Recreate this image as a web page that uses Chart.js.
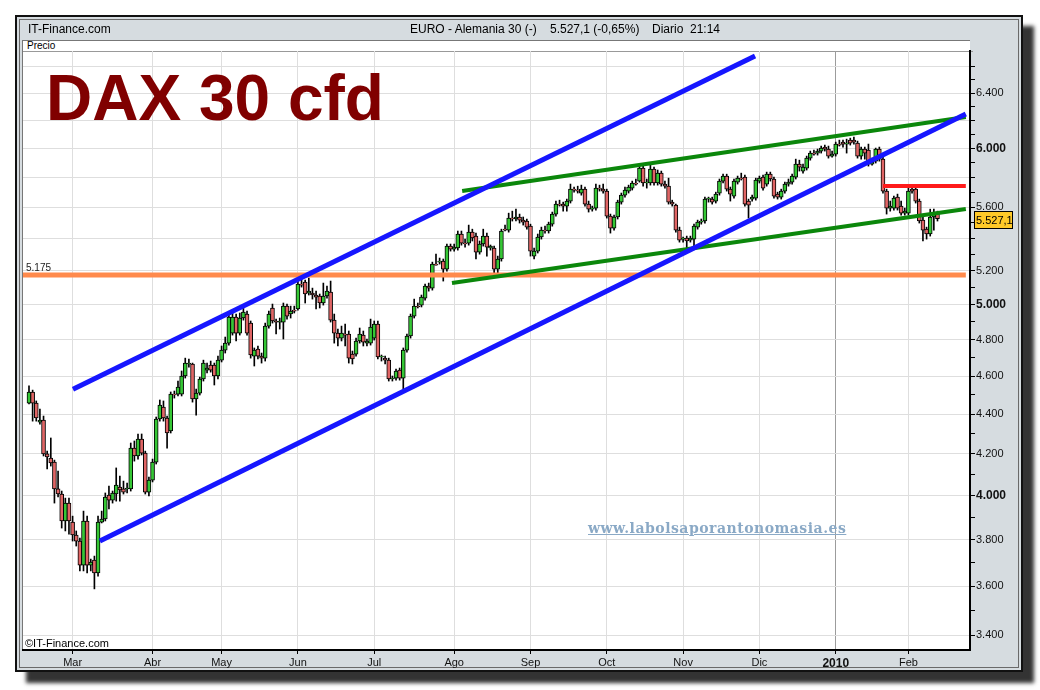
<!DOCTYPE html>
<html lang="es">
<head>
<meta charset="utf-8">
<title>DAX 30 cfd</title>
<script src="https://cdn.jsdelivr.net/npm/chart.js@4.4.1/dist/chart.umd.min.js"></script>
<style>
  html, body { margin: 0; padding: 0; background: #fff; }
  #lienzo { position: relative; width: 1040px; height: 690px; overflow: hidden;
            font-family: "Liberation Sans", Arial, sans-serif; color: #000; }
  #marco { position: absolute; left: 15px; top: 15px; width: 1004px; height: 653px;
           background: #d6dce0; border: 2px solid #111;
           box-shadow: inset 0 0 0 2px #d6dce0, inset 0 0 0 3px #6a6a6a, 11px 11px 4px rgba(0,0,0,0.8); }
  #zona { position: absolute; left: 22px; top: 40px; width: 948px; height: 610px; background: #fff;
          border-left: 1px solid #777; border-top: 1px solid #777; box-sizing: border-box; }
  #precio { position: absolute; left: 23px; top: 41px; width: 946px; height: 10px;
            border-bottom: 1px solid #999; font-size: 10px; line-height: 10px; padding-left: 4px; box-sizing: content-box; }
  canvas { position: absolute; left: 0; top: 0; }
  .texto { position: absolute; white-space: pre; }
  #fuente { left: 28px; top: 22px; font-size: 12px; }
  #simbolo { left: 410px; top: 22px; font-size: 12px; }
  #cotizacion { left: 550px; top: 22px; font-size: 12px; }
  #sesion { left: 652px; top: 22px; font-size: 12px; }
  #titulo { left: 46px; top: 66px; font-size: 64px; line-height: 64px; font-weight: bold; color: #800000; }
  #web { left: 588px; top: 520px; font-family: "DejaVu Serif", "Liberation Serif", serif; font-size: 14px;
         font-weight: bold; color: #8aa9c6; text-decoration: underline; letter-spacing: 0.5px; }
  #copy { left: 25px; top: 637px; font-size: 11px; }
</style>
</head>
<body>
<div id="lienzo">
  <div id="marco"></div>
  <div id="zona"></div>
  <div id="precio">Precio</div>
  <canvas id="grafico" width="1040" height="690"></canvas>
  <div class="texto" id="fuente">IT-Finance.com</div>
  <div class="texto" id="simbolo">EURO - Alemania 30 (-)</div>
  <div class="texto" id="cotizacion">5.527,1 (-0,65%)</div>
  <div class="texto" id="sesion">Diario  21:14</div>
  <div class="texto" id="titulo">DAX 30 cfd</div>
  <div class="texto" id="web">www.labolsaporantonomasia.es</div>
  <div class="texto" id="copy">©IT-Finance.com</div>
</div>
<script>
// Etiquetas de meses y sesión (índice de vela) en la que empieza cada mes
const meses = ['Mar', 'Abr', 'May', 'Jun', 'Jul', 'Ago', 'Sep', 'Oct', 'Nov', 'Dic', '2010', 'Feb'];
const inicioMes = [12, 34, 53, 74, 95, 117, 138, 159, 180, 201, 222, 242];

// Marcas del eje de precios (cada 100), rejilla cada 200 y niveles con etiqueta
const marcasPrecio = [3400, 3500, 3600, 3700, 3800, 3900, 4000, 4100, 4200, 4300, 4400, 4500, 4600, 4700,
  4800, 4900, 5000, 5100, 5200, 5300, 5400, 5500, 5600, 5700, 5800, 5900, 6000, 6100, 6200, 6300, 6400, 6500, 6600];
const nivelesEtiqueta = [3400, 3600, 3800, 4000, 4200, 4400, 4600, 4800, 5000, 5200, 5600, 6000, 6400];

// Velas diarias (feb 2009 - feb 2010)
const apertura = [
  4457, 4515, 4457, 4359, 4369, 4200, 4180, 4160, 4032, 4008,
  3884, 3966, 3879, 3821, 3794, 3689, 3884, 3689, 3711, 3655,
  3879, 3893, 4003, 3980, 4008, 4041, 4032, 4032, 4032, 4229,
  4190, 4274, 4204, 4017, 4074, 4160, 4375, 4436, 4380, 4314,
  4504, 4504, 4504, 4600, 4665, 4665, 4478, 4509, 4584, 4632,
  4659, 4659, 4600, 4686, 4741, 4780, 4836, 4927, 4836, 4922,
  4945, 4893, 4708, 4747, 4708, 4697, 4876, 4980, 4905, 4899,
  4899, 4991, 4945, 4968, 4974, 5121, 5133, 5068, 5068, 5056,
  5050, 5009, 5050, 5073, 4910, 4836, 4808, 4831, 4831, 4719,
  4719, 4792, 4825, 4780, 4780, 4808, 4888, 4703, 4697, 4686,
  4584, 4589, 4632, 4589, 4741, 4820, 4933, 4991, 4997, 5038,
  5109, 5097, 5242, 5254, 5260, 5211, 5353, 5334, 5341, 5429,
  5372, 5372, 5441, 5416, 5316, 5366, 5416, 5341, 5341, 5211,
  5273, 5460, 5454, 5531, 5525, 5538, 5518, 5512, 5479, 5291,
  5322, 5410, 5454, 5448, 5492, 5557, 5622, 5622, 5609, 5642,
  5721, 5715, 5695, 5721, 5622, 5589, 5596, 5728, 5721, 5708,
  5544, 5467, 5538, 5635, 5681, 5708, 5728, 5762, 5775, 5863,
  5762, 5762, 5856, 5762, 5829, 5755, 5741, 5635, 5615, 5454,
  5397, 5404, 5391, 5397, 5473, 5505, 5512, 5655, 5655, 5642,
  5695, 5775, 5809, 5721, 5675, 5768, 5795, 5802, 5642, 5655,
  5661, 5775, 5802, 5755, 5822, 5789, 5688, 5668, 5708, 5755,
  5768, 5802, 5891, 5843, 5863, 5932, 5967, 5967, 5981, 6009,
  5995, 5946, 5960, 6030, 6044, 6030, 6058, 6058, 6037, 5946,
  5995, 5988, 5891, 5911, 5995, 5925, 5708, 5596, 5596, 5668,
  5609, 5563, 5563, 5721, 5721, 5642, 5518, 5460, 5429, 5538,
  5563
];
const maximo = [
  4547, 4525, 4468, 4426, 4390, 4214, 4279, 4170, 4117, 4022,
  3989, 3989, 3906, 3839, 3807, 3929, 3906, 3715, 3728, 3906,
  3929, 4013, 4046, 4022, 4132, 4093, 4069, 4060, 4254, 4264,
  4299, 4299, 4214, 4088, 4175, 4385, 4473, 4468, 4390, 4515,
  4520, 4573, 4627, 4697, 4692, 4670, 4531, 4594, 4686, 4670,
  4681, 4670, 4708, 4764, 4814, 4951, 4951, 4945, 4951, 4980,
  4962, 4905, 4753, 4764, 4725, 4893, 4962, 5003, 4916, 4922,
  5009, 5003, 4991, 4991, 5139, 5151, 5145, 5157, 5097, 5079,
  5062, 5127, 5109, 5139, 4945, 4859, 4876, 4888, 4848, 4736,
  4808, 4865, 4848, 4803, 4916, 4905, 4905, 4714, 4708, 4697,
  4600, 4638, 4643, 4753, 4831, 4945, 5032, 5009, 5056, 5121,
  5127, 5254, 5303, 5279, 5273, 5366, 5366, 5366, 5448, 5448,
  5397, 5486, 5460, 5435, 5385, 5460, 5435, 5360, 5353, 5291,
  5460, 5486, 5563, 5576, 5589, 5557, 5538, 5525, 5492, 5341,
  5429, 5473, 5479, 5505, 5570, 5642, 5648, 5635, 5655, 5755,
  5735, 5741, 5748, 5735, 5642, 5609, 5755, 5748, 5755, 5721,
  5557, 5550, 5648, 5695, 5735, 5748, 5775, 5789, 5884, 5877,
  5789, 5891, 5870, 5850, 5843, 5775, 5795, 5648, 5622, 5473,
  5410, 5416, 5416, 5492, 5518, 5525, 5668, 5668, 5668, 5701,
  5789, 5822, 5822, 5735, 5789, 5809, 5829, 5816, 5655, 5681,
  5795, 5809, 5816, 5836, 5836, 5802, 5701, 5721, 5768, 5789,
  5822, 5925, 5918, 5891, 5946, 5981, 5988, 5995, 6016, 6023,
  6016, 5981, 6044, 6058, 6058, 6065, 6072, 6079, 6051, 6009,
  6009, 6030, 5932, 6002, 6009, 5939, 5721, 5642, 5675, 5688,
  5642, 5596, 5735, 5741, 5735, 5655, 5538, 5473, 5589, 5589,
  5576
];
const minimo = [
  4452, 4364, 4364, 4349, 4190, 4127, 4141, 3966, 3994, 3852,
  3839, 3825, 3794, 3772, 3664, 3664, 3655, 3664, 3588, 3642,
  3875, 3884, 3939, 3966, 3975, 3975, 4008, 4013, 4022, 4165,
  4175, 4195, 4008, 3999, 4065, 4151, 4364, 4364, 4229, 4304,
  4483, 4494, 4494, 4589, 4648, 4462, 4395, 4499, 4573, 4616,
  4621, 4552, 4584, 4676, 4725, 4769, 4825, 4792, 4825, 4910,
  4825, 4697, 4654, 4692, 4670, 4681, 4864, 4893, 4831, 4859,
  4803, 4916, 4922, 4951, 4968, 5103, 5009, 5056, 5032, 4974,
  4980, 4997, 5038, 4899, 4780, 4764, 4792, 4764, 4670, 4665,
  4708, 4780, 4764, 4764, 4769, 4797, 4692, 4681, 4665, 4573,
  4573, 4578, 4578, 4531, 4730, 4808, 4922, 4980, 4986, 5026,
  5079, 5085, 5236, 5242, 5139, 5199, 5322, 5322, 5328, 5359,
  5347, 5359, 5385, 5273, 5303, 5353, 5291, 5328, 5187, 5187,
  5260, 5448, 5441, 5512, 5512, 5499, 5486, 5460, 5291, 5273,
  5310, 5397, 5435, 5435, 5479, 5544, 5609, 5576, 5576, 5629,
  5701, 5695, 5681, 5609, 5570, 5576, 5583, 5708, 5695, 5531,
  5435, 5454, 5525, 5622, 5668, 5695, 5715, 5748, 5768, 5741,
  5728, 5748, 5748, 5748, 5741, 5728, 5622, 5609, 5441, 5378,
  5378, 5341, 5378, 5347, 5460, 5492, 5499, 5635, 5622, 5629,
  5681, 5762, 5708, 5642, 5661, 5755, 5782, 5609, 5531, 5642,
  5648, 5762, 5715, 5741, 5775, 5661, 5655, 5655, 5695, 5741,
  5755, 5789, 5843, 5829, 5850, 5918, 5953, 5953, 5967, 5981,
  5932, 5939, 5946, 6016, 6009, 5967, 6023, 6030, 5932, 5925,
  5925, 5877, 5884, 5898, 5911, 5695, 5557, 5576, 5583, 5583,
  5550, 5550, 5550, 5695, 5629, 5499, 5385, 5397, 5416, 5454,
  5512
];
const cierre = [
  4515, 4457, 4380, 4369, 4200, 4185, 4156, 4032, 4008, 3884,
  3966, 3884, 3821, 3794, 3689, 3884, 3689, 3702, 3655, 3879,
  3893, 3994, 3980, 4013, 4050, 4027, 4017, 4036, 4229, 4190,
  4274, 4204, 4017, 4074, 4160, 4375, 4447, 4380, 4304, 4504,
  4499, 4541, 4600, 4670, 4670, 4478, 4509, 4584, 4670, 4643,
  4632, 4600, 4686, 4741, 4780, 4927, 4927, 4836, 4922, 4956,
  4836, 4714, 4741, 4708, 4697, 4876, 4945, 4905, 4899, 4905,
  4991, 4933, 4962, 4962, 5121, 5115, 5062, 5079, 5056, 5044,
  5009, 5050, 5079, 4910, 4836, 4808, 4836, 4825, 4697, 4692,
  4792, 4831, 4786, 4792, 4870, 4888, 4703, 4708, 4686, 4584,
  4589, 4627, 4589, 4741, 4820, 4933, 4991, 4986, 5044, 5109,
  5097, 5242, 5236, 5260, 5211, 5353, 5334, 5347, 5429, 5372,
  5366, 5441, 5404, 5316, 5366, 5416, 5347, 5353, 5211, 5273,
  5448, 5454, 5531, 5525, 5538, 5518, 5505, 5473, 5322, 5322,
  5410, 5454, 5448, 5492, 5557, 5622, 5615, 5609, 5642, 5721,
  5715, 5708, 5721, 5622, 5589, 5596, 5728, 5721, 5708, 5544,
  5467, 5538, 5635, 5681, 5715, 5735, 5762, 5755, 5863, 5762,
  5768, 5856, 5762, 5829, 5755, 5741, 5635, 5622, 5454, 5391,
  5404, 5385, 5404, 5479, 5505, 5512, 5655, 5661, 5635, 5688,
  5775, 5809, 5721, 5688, 5775, 5795, 5789, 5622, 5615, 5668,
  5782, 5795, 5728, 5822, 5789, 5675, 5668, 5708, 5755, 5768,
  5809, 5891, 5870, 5870, 5932, 5967, 5960, 5981, 6002, 5995,
  5946, 5960, 6030, 6023, 6030, 6037, 6037, 6044, 5946, 5995,
  5967, 5891, 5905, 5995, 5925, 5708, 5596, 5609, 5661, 5596,
  5563, 5576, 5708, 5708, 5642, 5512, 5454, 5429, 5538, 5563,
  5527.1
];

// Líneas de tendencia trazadas sobre el gráfico (sesión, precio)
const canalSuperior = [{ x: 12.1, y: 4530 }, { x: 199.8, y: 6682 }];
const canalInferior = [{ x: 19.5, y: 3794 }, { x: 257.8, y: 6245 }];
const cunaSuperior = [{ x: 119.2, y: 5709 }, { x: 257.8, y: 6223 }];
const cunaInferior = [{ x: 116.4, y: 5127 }, { x: 257.8, y: 5590 }];
const soporte = [{ x: -1.65, y: 5175 }, { x: 257.8, y: 5175 }];
const resistencia = [{ x: 235, y: 5742 }, { x: 257.8, y: 5742 }];

const FUENTE = '"Liberation Sans", Arial, sans-serif';
Chart.defaults.font.family = FUENTE;

// Formato de precio con punto de miles y coma decimal
function formatoPrecio(v, decimales) {
  const entero = Math.floor(v);
  let txt = entero >= 1000 ? Math.floor(entero / 1000) + '.' + String(entero % 1000).padStart(3, '0') : String(entero);
  if (decimales) txt += ',' + Math.round((v - entero) * Math.pow(10, decimales));
  return txt;
}

// Etiquetas dibujadas sobre las escalas: último precio y nivel del soporte
const etiquetas = {
  id: 'etiquetas',
  afterDraw(chart) {
    const c = chart.ctx;
    const escalaY = chart.scales.y;
    const area = chart.chartArea;
    const ultimo = cierre[cierre.length - 1];
    const yUlt = Math.round(escalaY.getPixelForValue(ultimo)) + 1;
    c.save();
    c.fillStyle = '#ffc928';
    c.fillRect(area.right + 4, yUlt - 9, 39, 18);
    c.strokeStyle = '#000';
    c.lineWidth = 1;
    c.strokeRect(area.right + 4.5, yUlt - 8.5, 38, 17);
    c.fillStyle = '#000';
    c.font = '11px ' + FUENTE;
    c.textBaseline = 'middle';
    c.fillText(formatoPrecio(ultimo, 1), area.right + 6, yUlt + 1);
    const ySop = escalaY.getPixelForValue(soporte[0].y);
    c.font = '10px ' + FUENTE;
    c.fillStyle = '#222';
    c.fillText(formatoPrecio(soporte[0].y), area.left + 3, ySop - 7);
    c.restore();
  }
};

const linea = (data, color, ancho, orden) => ({
  type: 'line', data, borderColor: color, borderWidth: ancho,
  pointRadius: 0, fill: false, tension: 0, borderCapStyle: 'butt', order: orden
});

const ctx = document.getElementById('grafico').getContext('2d');

new Chart(ctx, {
  type: 'bar',
  data: {
    datasets: [
      linea(canalSuperior, '#1616ff', 5, 0),
      linea(canalInferior, '#1616ff', 5, 0),
      linea(cunaSuperior, '#0b870b', 4, 1),
      linea(cunaInferior, '#0b870b', 4, 1),
      linea(soporte, '#ff8a4c', 5, 2),
      linea(resistencia, '#ff1a1a', 4, 2),
      {
        label: 'Cuerpos',
        data: apertura.map((o, i) => ({ x: i, y: [Math.min(o, cierre[i]), Math.max(o, cierre[i])] })),
        backgroundColor: apertura.map((o, i) => cierre[i] >= o ? '#35c735' : '#e06565'),
        borderColor: '#000',
        borderWidth: 1,
        borderSkipped: false,
        barThickness: 4,
        grouped: false,
        order: 3
      },
      {
        label: 'Mechas',
        data: apertura.map((o, i) => ({ x: i, y: [minimo[i], maximo[i]] })),
        backgroundColor: '#000',
        barThickness: 1,
        grouped: false,
        order: 4
      }
    ]
  },
  options: {
    responsive: false,
    animation: false,
    events: [],
    layout: { padding: { left: 23, top: 51, right: 20, bottom: 18 } },
    plugins: {
      legend: { display: false },
      tooltip: { enabled: false }
    },
    scales: {
      x: {
        type: 'linear',
        bounds: 'data',
        min: -1.65,
        max: 258.95,
        offset: false,
        afterBuildTicks: (eje) => { eje.ticks = inicioMes.map(v => ({ value: v })); },
        afterFit: (eje) => { eje.height = 22; },
        grid: {
          offset: false,
          color: (c) => c.tick && c.tick.value === inicioMes[10] ? '#9c9c9c' : '#dedede',
          tickColor: '#000',
          tickLength: 4
        },
        border: { color: '#000', width: 2 },
        ticks: {
          autoSkip: false,
          maxRotation: 0,
          padding: 2,
          color: '#111',
          font: (c) => c.index === 10 ? { size: 12, weight: 'bold' } : { size: 11 },
          callback: (v, i) => meses[i]
        }
      },
      y: {
        type: 'logarithmic',
        position: 'right',
        bounds: 'data',
        min: 3341,
        max: 6722,
        afterBuildTicks: (eje) => { eje.ticks = marcasPrecio.map(v => ({ value: v })); },
        afterFit: (eje) => { eje.width = 50; },
        grid: {
          color: (c) => c.tick && c.tick.value % 200 === 0 ? '#dedede' : 'rgba(0,0,0,0)',
          tickColor: '#000',
          tickLength: 5
        },
        border: { color: '#000', width: 2 },
        ticks: {
          autoSkip: false,
          padding: 1,
          color: '#111',
          font: (c) => c.tick && c.tick.value % 1000 === 0 ? { size: 12, weight: 'bold' } : { size: 11 },
          callback: (v) => nivelesEtiqueta.includes(v) ? formatoPrecio(v) : ''
        }
      }
    }
  },
  plugins: [etiquetas]
});
</script>
</body>
</html>
